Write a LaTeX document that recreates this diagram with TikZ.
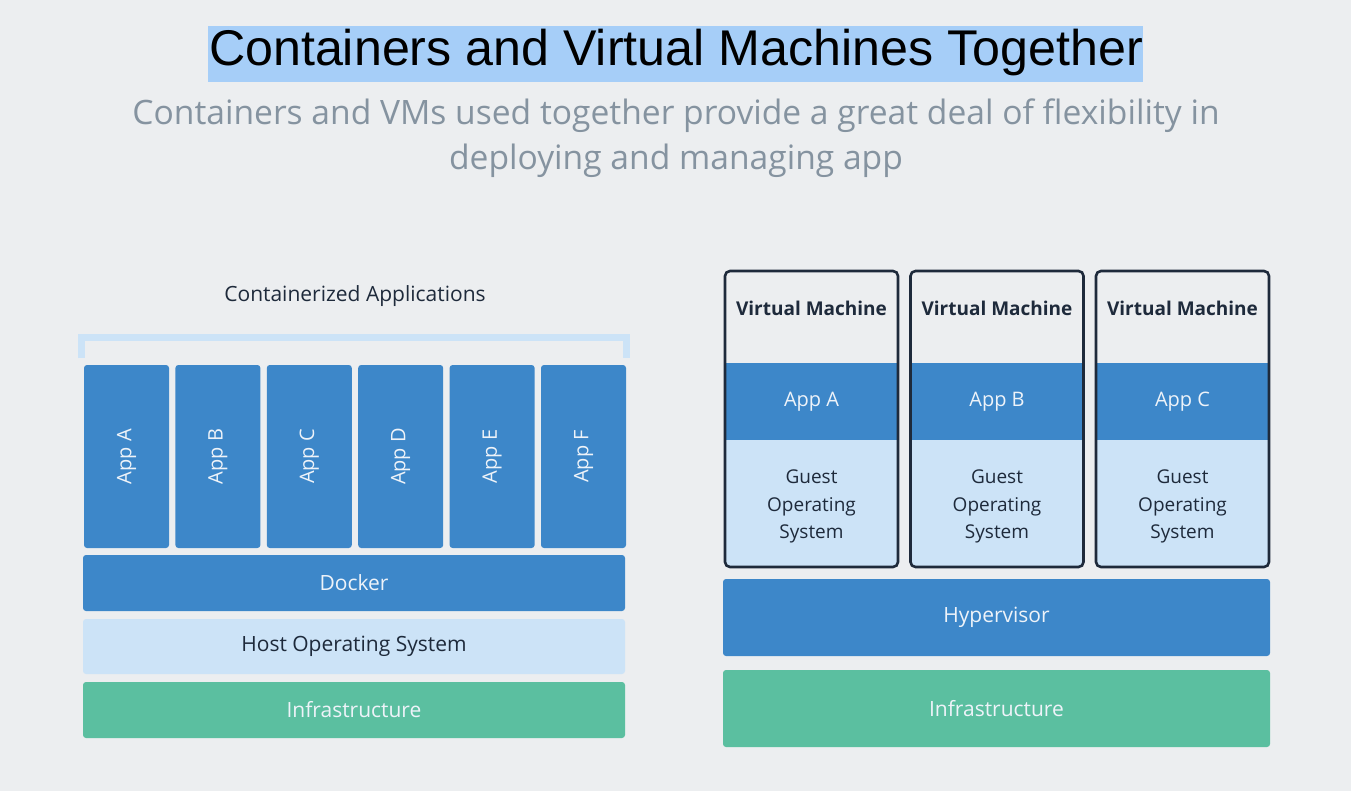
\documentclass[tikz,border=0pt]{standalone}
\usepackage{fontspec}
\setmainfont{Open Sans}
\newfontfamily\titlefont{Liberation Sans}
\definecolor{bgc}{HTML}{ECEEF0}
\definecolor{appblue}{HTML}{3D87C9}
\definecolor{lightblue}{HTML}{CCE3F7}
\definecolor{infragreen}{HTML}{5BBFA0}
\definecolor{navy}{HTML}{1E2A3B}
\definecolor{subgrey}{HTML}{8593A0}
\definecolor{hilite}{HTML}{A6CEF8}
\definecolor{paletext}{HTML}{EEF3F9}
\tikzset{
  body/.style={font=\fontsize{21}{27.5}\selectfont},
  layer/.style={rectangle, rounded corners=3pt, inner sep=0pt, body},
  bluelayer/.style={layer, fill=appblue, text=paletext},
  lightlayer/.style={layer, fill=lightblue, text=navy},
  greenlayer/.style={layer, fill=infragreen, text=paletext},
  appcol/.style={bluelayer, rotate=90, minimum width=183, minimum height=85, font=\fontsize{20}{24}\selectfont},
  vmframe/.style={rectangle, draw=navy, line width=2.6pt, rounded corners=5pt, minimum width=173, minimum height=296, inner sep=0pt},
  vmtitle/.style={font=\fontsize{19}{23}\selectfont\bfseries, text=navy},
  band/.style={rectangle, inner sep=0pt, minimum width=174, align=center},
}
\begin{document}
\begin{tikzpicture}[x=1pt,y=-1pt]
\fill[bgc] (0,0) rectangle (1351,791);
\useasboundingbox (0,0) rectangle (1351,791);

% title with selection highlight
\fill[hilite] (208,26) rectangle (1143,82);
\node[anchor=base, inner sep=0pt, font=\titlefont\fontsize{50.2}{55}\selectfont, text=black] (title) at (676,66) {Containers and Virtual Machines Together};
\node[anchor=base, inner sep=0pt, font=\fontsize{33.6}{40}\selectfont, text=subgrey] (sub1) at (676,125) {Containers and VMs used together provide a great deal of flexibility in};
\node[anchor=base, inner sep=0pt, font=\fontsize{33.6}{40}\selectfont, text=subgrey] (sub2) at (676,170) {deploying and managing app};

% ---------- left: containers ----------
\node[anchor=base, inner sep=0pt, body, text=navy] (capps) at (355,302) {Containerized Applications};
\coordinate (brL) at (81.5,358);
\coordinate (brR) at (626.5,358);
\draw[lightblue, line width=7pt] (brL) -- (81.5,337.5) -- (626.5,337.5) -- (brR);

\foreach \n/\l [count=\i from 0] in {appA/A, appB/B, appC/C, appD/D, appE/E, appF/F}
  \node[appcol] (\n) at ({126.5+\i*91.4},456.5) {App \l};

\node[bluelayer, minimum width=542, minimum height=56] (docker) at (354,583) {Docker};
\node[lightlayer, minimum width=542, minimum height=55] (hostos) at (354,646.5) {Host Operating System};
\node[greenlayer, minimum width=542, minimum height=56] (infraL) at (354,710) {Infrastructure};

% ---------- right: virtual machines ----------
\foreach \n/\l [count=\i from 0] in {vmA/A, vmB/B, vmC/C} {
  \pgfmathsetmacro{\cx}{811.5+\i*185.5}
  \begin{scope}
    \clip[rounded corners=5pt] ({\cx-86.5},271) rectangle ({\cx+86.5},567);
    \node[band, fill=appblue, text=paletext, minimum height=77, font=\fontsize{20}{24}\selectfont] (\n app) at (\cx,401.5) {App \l};
    \node[band, fill=lightblue, minimum height=127] (\n os) at (\cx,503.5) {};
  \end{scope}
  \node[band, text=navy, font=\fontsize{19}{27.5}\selectfont] (\n ostext) at (\cx,506.5) {Guest\\Operating\\System};
  \node[vmframe] (\n) at (\cx,419) {};
  \node[vmtitle, anchor=base] (\n title) at (\cx,316) {Virtual Machine};
}

\node[bluelayer, minimum width=547, minimum height=77] (hyper) at (996.5,617.5) {Hypervisor};
\node[greenlayer, minimum width=547, minimum height=77] (infraR) at (996.5,708.5) {Infrastructure};
\end{tikzpicture}
\end{document}
